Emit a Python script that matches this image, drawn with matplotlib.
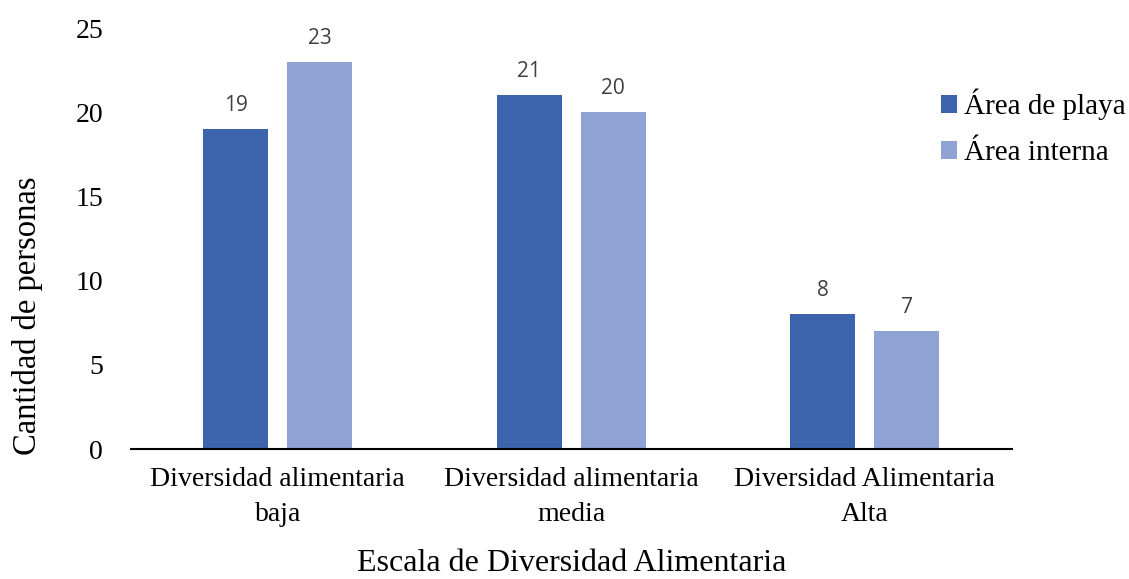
import matplotlib
matplotlib.use("Agg")
import matplotlib.pyplot as plt
import numpy as np

categories = ["Diversidad alimentaria\nbaja", "Diversidad alimentaria\nmedia", "Diversidad Alimentaria\nAlta"]
series_names = ["Área de playa", "Área interna"]
playa = [19, 21, 8]
interna = [23, 20, 7]
yticks = [0, 5, 10, 15, 20, 25]

colors = ["#3C64AC", "#8FA3D4"]
serif = "Liberation Serif"

fig = plt.figure(figsize=(11.29, 5.79), dpi=100)
ax = fig.add_axes([0.116, 0.2245, 0.78, 0.7271])

x = np.arange(len(categories))
w = 0.221
off = 0.143
b1 = ax.bar(x - off, playa, w, color=colors[0], label=series_names[0])
b2 = ax.bar(x + off, interna, w, color=colors[1], label=series_names[1])

for bars, vals in ((b1, playa), (b2, interna)):
    for r, v in zip(bars, vals):
        ax.annotate(str(v), (r.get_x() + r.get_width() / 2, v), xytext=(0, 17),
                    textcoords="offset points", ha="center", va="center",
                    fontsize=15, color="#404040", family="Open Sans")

ax.set_xlim(-0.5, 2.5)
ax.set_ylim(0, 25)
ax.set_yticks(yticks)
ax.set_yticklabels([str(t) for t in yticks], family=serif, fontsize=20)
ax.set_xticks(x)
ax.set_xticklabels(categories, family=serif, fontsize=20, linespacing=1.5)
ax.tick_params(axis="both", length=0)
ax.tick_params(axis="y", pad=20)
ax.tick_params(axis="x", pad=13)
for s in ("top", "right", "left"):
    ax.spines[s].set_visible(False)
ax.spines["bottom"].set_color("black")
ax.spines["bottom"].set_linewidth(1.5)

ax.set_ylabel("Cantidad de personas", family=serif, fontsize=23.5, va="center")
ax.yaxis.set_label_coords(-0.118, 0.316)
ax.set_xlabel("Escala de Diversidad Alimentaria", family=serif, fontsize=23, labelpad=16)

leg = fig.legend(handles=[b1, b2], labels=series_names, loc="upper left",
                 bbox_to_anchor=(0.81, 0.892), frameon=False,
                 prop={"family": serif, "size": 21}, handlelength=0.55,
                 handleheight=0.55, handletextpad=0.25, labelspacing=0.68)

fig.savefig("out.png", dpi=100)
